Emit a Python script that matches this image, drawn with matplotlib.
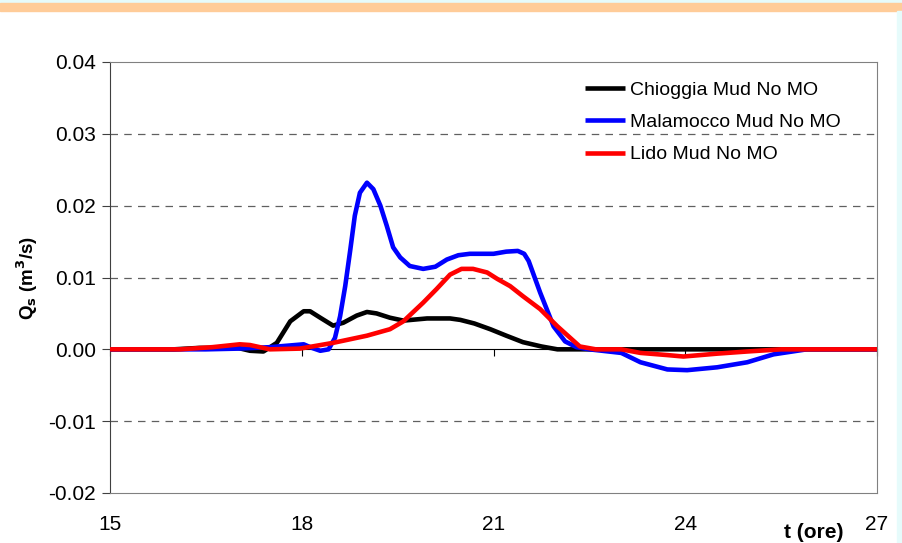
import matplotlib
matplotlib.use("Agg")
import matplotlib.pyplot as plt
from matplotlib.patches import Rectangle

plt.rcParams["font.family"] = ["Liberation Sans", "DejaVu Sans"]

# Chioggia Mud No MO
t_chi = [15, 16, 16.4, 17.0, 17.19, 17.4, 17.61, 17.82, 18.03, 18.13, 18.29, 18.49,
         18.65, 18.86, 19.02, 19.17, 19.38, 19.59, 19.96, 20.32, 20.48, 20.7, 20.95,
         21.2, 21.46, 21.75, 22.0, 22.5, 23, 24, 25, 26, 27]
q_chi = [0, 0, 0.0002, 0.0002, -0.0002, -0.0003, 0.0009, 0.0039, 0.0053, 0.0053,
         0.0044, 0.0033, 0.0037, 0.0047, 0.0052, 0.0050, 0.0044, 0.0040, 0.0043,
         0.0043, 0.0041, 0.0036, 0.0028, 0.0019, 0.0010, 0.0004, 0.0, 0, 0, 0, 0,
         0, 0]

# Malamocco Mud No MO
t_mal = [15, 16.5, 17.0, 17.5, 18.03, 18.16, 18.29, 18.42, 18.52, 18.6, 18.68,
         18.76, 18.83, 18.91, 19.02, 19.12, 19.23, 19.33, 19.43, 19.54, 19.69, 19.9,
         20.09, 20.27, 20.45, 20.63, 21.0, 21.2, 21.38, 21.48, 21.55, 21.73, 21.94,
         22.12, 22.3, 22.5, 23.0, 23.3, 23.72, 24.03, 24.5, 24.97, 25.38, 25.9, 27]
q_mal = [0, 0, 0.0001, 0.0003, 0.0007, 0.0002, -0.0002, 0.0, 0.0016, 0.0046,
         0.0088, 0.0139, 0.0186, 0.0218, 0.0232, 0.0223, 0.0200, 0.0172, 0.0142,
         0.0128, 0.0116, 0.0112, 0.0115, 0.0125, 0.0131, 0.0133, 0.0133, 0.0136,
         0.0137, 0.0133, 0.0123, 0.0079, 0.0032, 0.0011, 0.0003, 0.0, -0.0005,
         -0.0018, -0.0028, -0.0029, -0.0025, -0.0018, -0.0007, 0, 0]

# Lido Mud No MO
t_lid = [15, 16.1, 16.6, 17.03, 17.19, 17.5, 17.97, 18.49, 19.02, 19.38, 19.59,
         19.9, 20.11, 20.32, 20.5, 20.68, 20.9, 21.06, 21.26, 21.46, 21.73, 22.0,
         22.35, 22.6, 23.0, 23.3, 23.72, 23.97, 24.5, 24.97, 25.5, 27]
q_lid = [0, 0, 0.0003, 0.0007, 0.0006, 0.0, 0.0001, 0.0009, 0.0019, 0.0028,
         0.0039, 0.0065, 0.0084, 0.0104, 0.0112, 0.0112, 0.0107, 0.0098, 0.0088,
         0.0074, 0.0056, 0.0032, 0.0004, 0.0, 0, -0.0005, -0.0008, -0.0010,
         -0.0006, -0.0003, 0, 0]

labels = ["Chioggia Mud No MO", "Malamocco Mud No MO", "Lido Mud No MO"]
x_ticks = [15, 18, 21, 24, 27]
y_ticks = [-0.02, -0.01, 0.0, 0.01, 0.02, 0.03, 0.04]

fig = plt.figure(figsize=(9.02, 5.43), dpi=100)
# decoration strips at top/right
fig.patches.append(Rectangle((0, 1 - 3 / 543), 1, 3 / 543, transform=fig.transFigure,
                             color="#e6fbfb", zorder=0))
fig.patches.append(Rectangle((0, 1 - 11 / 543), 1, 8 / 543, transform=fig.transFigure,
                             color="#ffcc99", zorder=0))
fig.patches.append(Rectangle((897 / 902, 0), 5 / 902, 1 - 11 / 543, transform=fig.transFigure,
                             color="#e6fbfb", zorder=0))

ax = fig.add_axes([110 / 902, 1 - 493 / 543, 767 / 902, 431 / 543])

for y in y_ticks:
    if y not in (0.0, -0.02, 0.04):
        ax.axhline(y, color="#606060", lw=0.9, ls=(0, (6, 5)), zorder=1)

line_kw = dict(lw=3.3, solid_joinstyle="round", solid_capstyle="butt")
ax.plot(t_chi, q_chi, color="black", label=labels[0], zorder=3, **line_kw)
ax.plot(t_mal, q_mal, color="#0000ff", label=labels[1], zorder=3, **line_kw)
ax.plot(t_lid, q_lid, color="#ff0000", label=labels[2], zorder=4, clip_on=False, **line_kw)

ax.set_xlim(15, 27)
ax.set_ylim(-0.02, 0.04)
ax.set_yticks(y_ticks)
ax.set_yticklabels([f"{v:.2f}" for v in y_ticks])
ax.set_xticks(x_ticks)
ax.set_xticklabels([str(v) for v in x_ticks])

for s in ["top", "right", "bottom"]:
    ax.spines[s].set_color("#808080")
ax.spines["left"].set_color("#404040")
ax.tick_params(axis="y", direction="out", length=6, color="#404040", labelsize=15, pad=4)
ax.tick_params(axis="x", length=0, labelsize=15, pad=16)

# category axis crossing at zero
sec = ax.secondary_xaxis(1 / 3)
sec.set_xticks(x_ticks)
sec.set_xticklabels([])
sec.tick_params(direction="out", length=5, color="black")
sec.spines["bottom"].set_color("black")

ax.set_ylabel("Q$_\\mathbf{s}$ (m$^\\mathbf{3}$/s)", fontsize=13.5, fontweight="bold", labelpad=6)
fig.text(814 / 902, 1 - 532 / 543, "t (ore)", fontsize=15, fontweight="bold",
         ha="center", va="center")

ax.legend(loc="upper left", bbox_to_anchor=(0.619, 0.955), frameon=False, fontsize=14,
          handlelength=2.06, handletextpad=0.26, labelspacing=0.75, borderaxespad=0,
          borderpad=0)

fig.savefig("out.png", dpi=100)
